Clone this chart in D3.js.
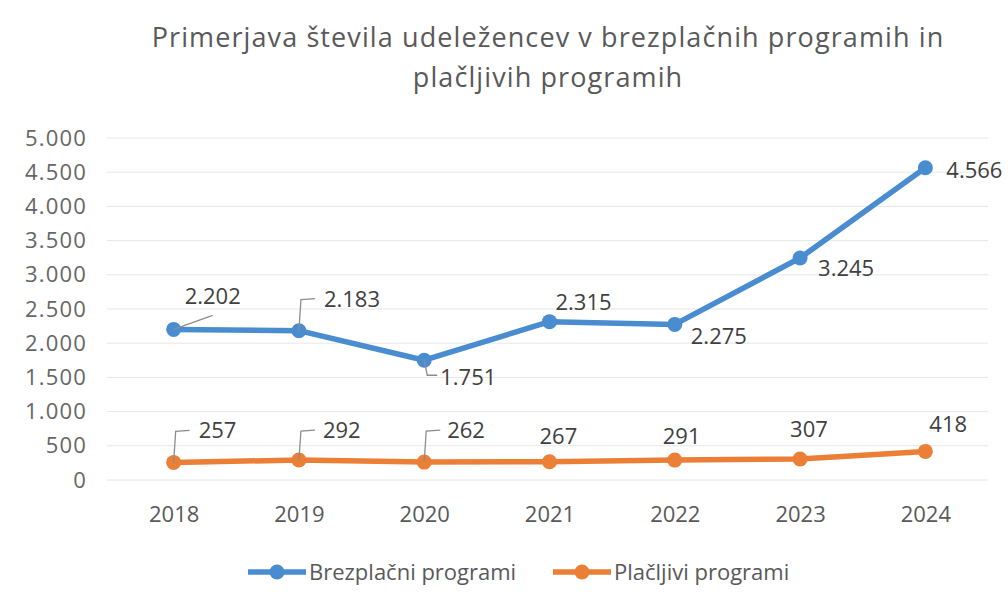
<!DOCTYPE html>
<html>
<head>
<meta charset="utf-8">
<script src="https://cdn.jsdelivr.net/npm/d3@7"></script>
<style>
  body { margin: 0; background: #fff; }
  svg { font-family: "Open Sans", "Noto Sans", sans-serif; }
</style>
</head>
<body>
<script>
const years = ["2018", "2019", "2020", "2021", "2022", "2023", "2024"];
const freeValues = [2202, 2183, 1751, 2315, 2275, 3245, 4566];
const paidValues = [257, 292, 262, 267, 291, 307, 418];
const yTicks = [0, 500, 1000, 1500, 2000, 2500, 3000, 3500, 4000, 4500, 5000];
const seriesNames = ["Brezplačni programi", "Plačljivi programi"];
const titleLines = ["Primerjava števila udeležencev v brezplačnih programih in", "plačljivih programih"];

// label placement (offset from point, and the leader line kind if any)
const freeLabelPos = [
  {dx: 11, dy: -33, leader: "diag"}, {dx: 25, dy: -32, leader: "up"}, {dx: 16, dy: 17, leader: "down"},
  {dx: 6, dy: -20}, {dx: 16, dy: 12}, {dx: 18, dy: 10}, {dx: 21, dy: 2}
];
const paidLabelPos = [
  {dx: 25, dy: -32, leader: "up"}, {dx: 24, dy: -30, leader: "up"}, {dx: 23, dy: -32, leader: "up"},
  {dx: -10, dy: -26}, {dx: -12, dy: -24}, {dx: -10, dy: -30}, {dx: 4, dy: -27}
];

const W = 1008, H = 600;
const margin = {left: 111, right: 20, top: 138, bottom: 120};
const blue = "#4a8cd0", orange = "#eb7f36", textCol = "#595959";

const fmt = v => d3.format(",")(v).replace(/,/g, ".");

const svg = d3.select("body").append("svg").attr("width", W).attr("height", H);

const x = d3.scalePoint().domain(years).range([margin.left, W - margin.right]).padding(0.5);
const y = d3.scaleLinear().domain([0, 5000]).range([H - margin.bottom, margin.top]);

// title
svg.append("g").selectAll("text").data(titleLines).join("text")
  .attr("x", 548).attr("y", (d, i) => 47 + i * 40)
  .attr("text-anchor", "middle").attr("font-size", 27).attr("letter-spacing", 1.1)
  .attr("fill", textCol)
  .text(d => d);

// grid
svg.append("g").selectAll("line").data(yTicks).join("line")
  .attr("x1", margin.left - 4).attr("x2", W - margin.right)
  .attr("y1", d => y(d)).attr("y2", d => y(d))
  .attr("stroke", "#e6e6e6").attr("stroke-width", 1);

// y axis
const yAxis = svg.append("g").attr("transform", `translate(${margin.left - 8},0)`)
  .call(d3.axisLeft(y).tickValues(yTicks).tickFormat(fmt).tickSize(0).tickPadding(16));
yAxis.select(".domain").remove();
yAxis.attr("font-family", null);
yAxis.selectAll("text").attr("font-size", 22).attr("letter-spacing", 1.2).attr("fill", "#666");

// x axis
const xAxis = svg.append("g").attr("transform", `translate(0,${y(0)})`)
  .call(d3.axisBottom(x).tickSize(0).tickPadding(26));
xAxis.select(".domain").remove();
xAxis.attr("font-family", null);
xAxis.selectAll("text").attr("font-size", 22).attr("fill", textCol);

const line = d3.line().x((d, i) => x(years[i])).y(d => y(d));

function drawSeries(values, color, labelPos) {
  const g = svg.append("g");
  g.append("path").datum(values).attr("d", line)
    .attr("fill", "none").attr("stroke", color).attr("stroke-width", 5.5)
    .attr("stroke-linejoin", "round");
  g.selectAll("circle").data(values).join("circle")
    .attr("cx", (d, i) => x(years[i])).attr("cy", d => y(d)).attr("r", 7.5)
    .attr("fill", color);
  // leader lines
  values.forEach((v, i) => {
    const p = labelPos[i];
    if (!p.leader) return;
    const px = x(years[i]), py = y(v);
    let pts;
    if (p.leader === "diag") pts = [[px, py], [px + 39, py - 14]];
    else if (p.leader === "up") pts = [[px, py], [px + 2, py + p.dy + 1], [px + 16, py + p.dy]];
    else pts = [[px, py], [px + 3, py + 15], [px + 13, py + 15]];
    g.append("path").attr("d", d3.line()(pts))
      .attr("fill", "none").attr("stroke", "#8c8c8c").attr("stroke-width", 1.3);
  });
  g.selectAll("text").data(values).join("text")
    .attr("x", (d, i) => x(years[i]) + labelPos[i].dx)
    .attr("y", (d, i) => y(d) + labelPos[i].dy)
    .attr("dy", "0.36em").attr("font-size", 22).attr("fill", "#404040")
    .text(fmt);
}

drawSeries(freeValues, blue, freeLabelPos);
drawSeries(paidValues, orange, paidLabelPos);

// legend
const legend = svg.append("g").selectAll("g").data(seriesNames).join("g")
  .attr("transform", (d, i) => `translate(${[248, 553][i]},572)`);
legend.append("line").attr("x1", 0).attr("x2", 58)
  .attr("stroke", (d, i) => [blue, orange][i]).attr("stroke-width", 5.5);
legend.append("circle").attr("cx", 29).attr("r", 7.5).attr("fill", (d, i) => [blue, orange][i]);
legend.append("text").attr("x", 61).attr("dy", "0.36em")
  .attr("font-size", 22).attr("fill", textCol).text(d => d);
</script>
</body>
</html>
